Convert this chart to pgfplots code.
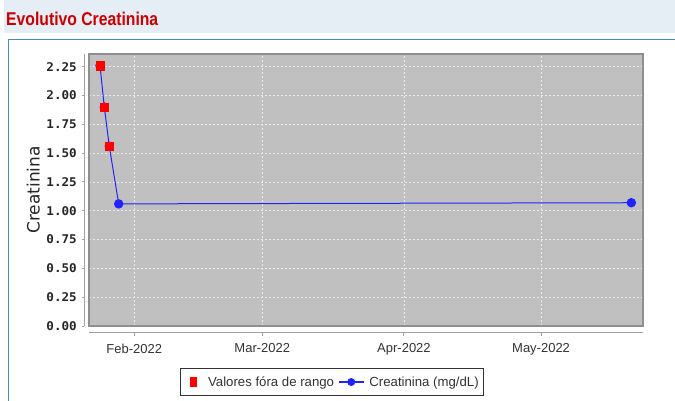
\documentclass[border=0pt]{standalone}
\usepackage{pgfplots}
\pgfplotsset{compat=1.18}
\usepackage{fontspec}
\setmainfont{Liberation Sans}
\newfontfamily\titlefont[FakeStretch=0.85]{Liberation Sans}
\newfontfamily\tickfont[FakeStretch=1.05]{DejaVu Sans Mono}
\newfontfamily\ylabfont{DejaVu Sans}
\definecolor{hdr}{HTML}{E6EEF5}
\definecolor{pnl}{HTML}{4A8DB7}
\definecolor{ttl}{HTML}{CC0000}
\definecolor{plotbg}{HTML}{C0C0C0}
\definecolor{plotbd}{HTML}{8E8E8E}
\definecolor{axgray}{HTML}{A0A0A0}
\definecolor{gridc}{HTML}{EAEAEA}
\definecolor{serblue}{HTML}{2222FF}
\begin{document}
\begin{tikzpicture}[x=1pt,y=1pt]
\useasboundingbox (0,0) rectangle (675,-401);
\fill[white] (0,0) rectangle (675,-401);
\fill[hdr] (4,0) rectangle (675,-33);
\node[anchor=base west, inner sep=0pt, text=ttl, font=\titlefont\bfseries\fontsize{18.5}{20}\selectfont] at (6,-25.7) {Evolutivo Creatinina};
\draw[pnl, line width=1.3pt] (8.5,-405) -- (8.5,-39.5) -- (680,-39.5);

% y axis (offset to the left)
\begin{axis}[
  scale only axis, width=554pt, height=272pt,
  at={(84.5pt,-326pt)}, anchor=south west,
  xmin=0, xmax=1, ymin=0, ymax=2.361,
  axis y line*=left, hide x axis,
  ytick={0,0.25,0.5,0.75,1,1.25,1.5,1.75,2,2.25},
  tick align=outside, major tick length=2.5pt,
  axis line style={draw=axgray, line width=1.2pt},
  y tick style={draw=axgray, line width=1pt},
  /pgf/number format/assume math mode=true,
  yticklabel style={font=\tickfont\bfseries\fontsize{12}{14}\selectfont, text=black!85, /pgf/number format/fixed, /pgf/number format/fixed zerofill, /pgf/number format/precision=2, inner sep=0pt, anchor=east},
  yticklabel shift=5pt,
  ylabel={Creatinina},
  ylabel style={font=\ylabfont\fontsize{17}{19}\selectfont, text=black!85, at={(axis description cs:-0.0812,0.5)}, anchor=base, inner sep=0pt, rotate=0},
]
\end{axis}

% x axis (offset below)
\begin{axis}[
  scale only axis, width=554pt, height=10pt,
  at={(89pt,-332.7pt)}, anchor=south west,
  xmin=-9.91, xmax=111.3, ymin=0, ymax=1,
  axis x line*=bottom, hide y axis,
  xtick={0,28,59,89},
  xticklabels={Feb-2022,Mar-2022,Apr-2022,May-2022},
  tick align=outside, major tick length=3pt,
  axis line style={draw=axgray, line width=1.2pt},
  x tick style={draw=axgray, line width=1pt},
  xticklabel style={font=\fontsize{13}{15}\selectfont, text=black!80, inner sep=0pt, anchor=north},
  xticklabel shift=8pt,
]
\end{axis}

% plot area
\begin{axis}[
  scale only axis, width=554pt, height=272pt,
  at={(89pt,-326pt)}, anchor=south west,
  xmin=-9.91, xmax=111.3, ymin=0, ymax=2.361,
  axis background/.style={fill=plotbg},
  axis line style={draw=plotbd, line width=1.5pt},
  xtick={0,28,59,89},
  ytick={0,0.25,0.5,0.75,1,1.25,1.5,1.75,2,2.25},
  xticklabels={}, yticklabels={},
  major tick length=0pt,
  grid=major,
  grid style={draw=gridc, line width=0.8pt, dash pattern=on 2pt off 2pt},
  clip=false,
  legend columns=2,
  legend style={at={(0.4386,-0.206)}, anchor=center, draw=black!80, line width=0.9pt,
    font=\fontsize{13.2}{15}\selectfont, text=black!80,
    inner xsep=3pt, inner ysep=6pt,
    /tikz/column 1/.style={column sep=9pt},
    /tikz/column 2/.style={column sep=2pt},
    /tikz/column 3/.style={column sep=3pt},
  },
]
\addlegendimage{legend image code/.code={\path (0pt,0pt); \fill[red] (7pt,-4.3pt) rectangle (13pt,4.3pt);}}
\addlegendentry{Valores fóra de rango}
\addlegendimage{legend image code/.code={\draw[serblue, line width=1.3pt] (0pt,0pt) -- (25pt,0pt); \fill[serblue] (12.5pt,0pt) circle (3.5pt);}}
\addlegendentry{Creatinina (mg/dL)}

\addplot[forget plot, serblue, line width=1pt, mark=*, mark size=4.2pt, mark options={fill=serblue, draw=serblue}]
  coordinates {(-7.5,2.26) (-6.56,1.90) (-5.47,1.56) (-3.41,1.06) (108.75,1.07)};
\addplot[forget plot, only marks, mark=square*, mark size=4.1pt, mark options={fill=red, draw=red}]
  coordinates {(-7.5,2.26) (-6.56,1.90) (-5.47,1.56)};
\end{axis}
\end{tikzpicture}
\end{document}
